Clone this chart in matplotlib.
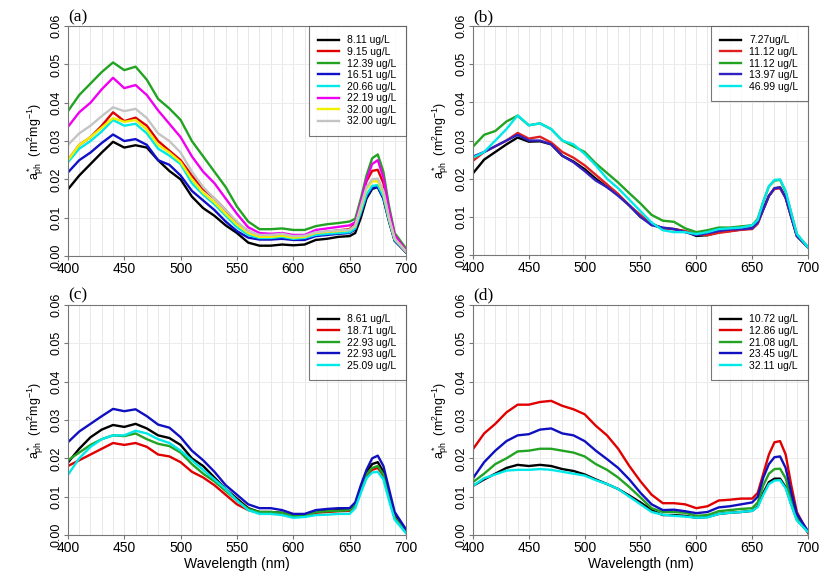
import numpy as np
import matplotlib
matplotlib.use("Agg")
import matplotlib.pyplot as plt
from matplotlib.ticker import MultipleLocator

plt.rcParams['font.family'] = ['Liberation Sans', 'DejaVu Sans']
plt.rcParams['mathtext.fontset'] = 'custom'
plt.rcParams['mathtext.rm'] = 'Liberation Sans'
plt.rcParams['mathtext.it'] = 'Liberation Sans'

# wavelength grid (nm)
wl = [400, 410, 420, 430, 440, 450, 460, 470, 480, 490, 500, 510, 520, 530, 540, 550,
      560, 570, 580, 590, 600, 610, 620, 630, 640, 650, 655, 660, 665, 670, 675, 680,
      685, 690, 700]

# panel (a)
a_labels = ["8.11 ug/L", "9.15 ug/L", "12.39 ug/L", "16.51 ug/L",
            "20.66 ug/L", "22.19 ug/L", "32.00 ug/L", "32.00 ug/L"]
a_colors = ["black", "#e00000", "#22a322", "#1010c8", "#00e8e8", "#f000f0", "#f0f000", "#c4c4c4"]
a_811 = [.0174, .021, .024, .027, .0298, .0283, .0289, .0283, .025, .0222, .020, .0155, .0125, .0105, .008, .006,
         .0035, .0027, .0027, .003, .0028, .003, .0042, .0045, .005, .0052, .006, .010, .015, .0175, .018, .015,
         .009, .004, .001]
a_915 = [.025, .029, .031, .034, .0375, .0352, .0361, .034, .030, .0275, .025, .021, .0175, .015, .012, .0085,
         .0065, .005, .005, .0052, .0048, .005, .006, .0063, .0067, .007, .0085, .014, .0195, .0222, .0225, .019,
         .011, .005, .0012]
a_1239 = [.0378, .042, .045, .048, .0505, .0485, .0494, .046, .041, .0385, .0355, .030, .026, .022, .018, .0129,
          .009, .007, .007, .0072, .0068, .0068, .0078, .0083, .0086, .009, .0097, .015, .021, .0255, .0265, .022,
          .013, .006, .002]
a_1651 = [.0218, .025, .027, .0295, .0317, .030, .0305, .029, .025, .0238, .021, .017, .0145, .012, .009, .0065,
          .0048, .0043, .0043, .0045, .0042, .0042, .0052, .0055, .0058, .006, .007, .011, .0155, .0178, .018, .015,
          .0092, .004, .001]
a_2066 = [.0245, .028, .030, .0325, .0355, .034, .0345, .032, .028, .0262, .024, .019, .016, .0135, .0105, .0075,
          .0055, .0047, .0047, .005, .0045, .0047, .0055, .0058, .006, .0062, .0072, .0115, .016, .0183, .0185, .0155,
          .0093, .0042, .0012]
a_2219 = [.0337, .0375, .040, .0435, .0465, .0438, .0446, .042, .038, .0345, .031, .026, .022, .019, .015, .011,
          .0075, .006, .0058, .006, .0055, .0055, .0068, .0072, .0076, .008, .0088, .014, .020, .024, .025, .0205,
          .012, .0055, .0015]
a_3200y = [.025, .029, .031, .0335, .036, .035, .0355, .033, .029, .027, .0245, .020, .0165, .014, .011, .0082,
           .006, .005, .005, .0053, .0048, .005, .006, .0063, .0065, .0068, .0078, .0125, .0175, .0195, .0195, .0165,
           .0098, .0045, .0012]
a_3200g = [.029, .032, .034, .0365, .0388, .0378, .0384, .036, .032, .030, .027, .022, .018, .015, .012, .009,
           .0065, .0055, .0055, .0058, .0052, .0053, .0062, .0065, .0067, .0068, .008, .013, .018, .020, .0202, .017,
           .010, .0045, .0012]

# panel (b)
b_labels = ["7.27ug/L", "11.12 ug/L", "11.12 ug/L", "13.97 ug/L", "46.99 ug/L"]
b_colors = ["black", "#e02020", "#22a322", "#3020c0", "#00e8e8"]
b_727 = [.0214, .025, .027, .029, .0308, .0297, .0298, .029, .026, .0245, .0225, .020, .0178, .0158, .013, .010,
         .0082, .007, .0068, .0062, .005, .0052, .006, .0063, .0067, .007, .0085, .012, .0155, .0175, .0177, .015,
         .010, .005, .002]
b_1112r = [.0247, .027, .0285, .030, .032, .0305, .031, .0295, .027, .0255, .0235, .021, .0185, .016, .013, .0105,
           .008, .007, .0068, .0063, .0055, .0052, .0058, .0062, .0066, .0068, .0082, .012, .0155, .0173, .0175, .015,
           .010, .005, .002]
b_1112g = [.0284, .0315, .0325, .035, .0365, .034, .0345, .033, .030, .0285, .027, .024, .0215, .019, .0162, .0135,
           .0105, .009, .0087, .007, .006, .0065, .0072, .0072, .0075, .0078, .0095, .014, .018, .0195, .0197, .0165,
           .011, .0055, .002]
b_1397 = [.0258, .027, .0285, .030, .0315, .030, .030, .029, .026, .0243, .022, .0195, .0178, .0155, .013, .010,
          .0078, .0072, .0068, .006, .0052, .0057, .0063, .0067, .0068, .007, .0085, .012, .0155, .0175, .0177, .015,
          .010, .005, .002]
b_4699 = [.0255, .027, .030, .033, .0366, .034, .0345, .033, .030, .029, .0265, .0235, .020, .0175, .0145, .0115,
          .0085, .0065, .006, .006, .0055, .006, .0068, .007, .0072, .0078, .0092, .014, .018, .0197, .0198, .0168,
          .011, .0055, .002]

# panel (c)
c_labels = ["8.61 ug/L", "18.71 ug/L", "22.93 ug/L", "22.93 ug/L", "25.09 ug/L"]
c_colors = ["black", "#e00000", "#22a322", "#1010c0", "#00e8e8"]
c_861 = [.0189, .0225, .0255, .0275, .0287, .0282, .029, .0278, .026, .0253, .0235, .020, .018, .015, .012, .0095,
         .007, .006, .006, .0058, .005, .005, .006, .0063, .0065, .0065, .008, .0125, .0165, .0185, .019, .0165,
         .0105, .005, .001]
c_1871 = [.018, .0195, .021, .0225, .024, .0235, .024, .023, .021, .0205, .019, .0165, .015, .013, .0105, .008,
          .0065, .0058, .0058, .0057, .005, .005, .0058, .006, .0062, .0063, .0075, .0115, .015, .017, .0175, .0155,
          .0098, .0045, .001]
c_2293g = [.0195, .0215, .0235, .025, .026, .0258, .0265, .025, .0238, .0232, .0215, .0185, .016, .014, .0115, .009,
           .0068, .006, .006, .0058, .005, .005, .006, .0062, .0063, .0065, .0078, .012, .0158, .0175, .018, .0158,
           .010, .0045, .001]
c_2293b = [.0242, .027, .029, .031, .0329, .0323, .0328, .031, .0288, .028, .0255, .022, .0195, .0165, .013, .0105,
           .008, .007, .007, .0065, .0055, .0055, .0065, .0068, .007, .007, .0085, .013, .017, .020, .0207, .018,
           .012, .006, .0015]
c_2509 = [.0157, .020, .023, .025, .026, .026, .0272, .0265, .025, .024, .022, .0195, .017, .0145, .012, .009,
          .0065, .0055, .0055, .0052, .0045, .0047, .0052, .0053, .0055, .0055, .007, .011, .0148, .0163, .0165, .0145,
          .009, .004, .0005]

# panel (d)
d_labels = ["10.72 ug/L", "12.86 ug/L", "21.08 ug/L", "23.45 ug/L", "32.11 ug/L"]
d_colors = ["black", "#e00000", "#22a322", "#1010c0", "#00e8e8"]
d_1072 = [.0128, .0145, .016, .0175, .0183, .018, .0183, .018, .0172, .0167, .0158, .0145, .0133, .012, .0103, .0085,
          .0065, .0052, .0052, .005, .0045, .0047, .0055, .0058, .006, .0063, .0075, .011, .0138, .0147, .0147, .0125,
          .008, .004, .0008]
d_1286 = [.0224, .0265, .029, .032, .034, .034, .0347, .035, .0337, .0328, .0315, .0285, .026, .0225, .018, .014,
          .0105, .0083, .0083, .008, .007, .0075, .009, .0092, .0095, .0095, .011, .016, .021, .0242, .0245, .021,
          .013, .006, .0005]
d_2108 = [.0138, .016, .0185, .020, .0218, .022, .0225, .0225, .022, .0215, .0205, .0185, .017, .015, .0125, .0098,
          .007, .006, .006, .0058, .005, .0052, .0062, .0065, .0068, .007, .0085, .013, .016, .0172, .0173, .0148,
          .009, .0045, .0008]
d_2345 = [.0148, .019, .022, .0245, .026, .0263, .0275, .0278, .0265, .026, .0245, .022, .0198, .0175, .0145, .011,
          .008, .0065, .0066, .0062, .0057, .006, .0072, .0075, .008, .0085, .010, .015, .0185, .0203, .0205, .0175,
          .011, .0055, .001]
d_3211 = [.0128, .0148, .0158, .0168, .017, .017, .0172, .017, .0165, .016, .0155, .0143, .0133, .012, .010, .008,
          .006, .0053, .005, .0048, .0045, .0046, .0055, .0058, .006, .0063, .0073, .0105, .0133, .0142, .0143, .0122,
          .0078, .0038, .0008]

panels = [
    ("(a)", a_labels, a_colors, [a_811, a_915, a_1239, a_1651, a_2066, a_2219, a_3200y, a_3200g], False),
    ("(b)", b_labels, b_colors, [b_727, b_1112r, b_1112g, b_1397, b_4699], False),
    ("(c)", c_labels, c_colors, [c_861, c_1871, c_2293g, c_2293b, c_2509], True),
    ("(d)", d_labels, d_colors, [d_1072, d_1286, d_2108, d_2345, d_3211], True),
]

# axes rectangles in figure fraction (left, bottom, width, height)
rects = [
    (0.0811, 0.5616, 0.4033, 0.3938),
    (0.5644, 0.5633, 0.3998, 0.3921),
    (0.0811, 0.0839, 0.4033, 0.3938),
    (0.5644, 0.0839, 0.3998, 0.3938),
]

fig = plt.figure(figsize=(8.38, 5.84), dpi=100)

for (tag, labels, colors, series, bottom), rect in zip(panels, rects):
    ax = fig.add_axes(rect)
    for vals, lab, col in zip(series, labels, colors):
        ax.plot(wl, vals, color=col, lw=1.7, label=lab)
    ax.set_xlim(400, 700)
    ax.set_ylim(0, 0.06)
    ax.xaxis.set_major_locator(MultipleLocator(50))
    ax.xaxis.set_minor_locator(MultipleLocator(10))
    ax.yaxis.set_major_locator(MultipleLocator(0.01))
    ax.set_yticklabels(["%.2f" % v for v in ax.get_yticks()])
    ax.grid(True, which='both', axis='x', color='#e8e8e8', lw=0.7)
    ax.grid(True, which='major', axis='y', color='#ececec', lw=0.7)
    ax.set_axisbelow(True)
    for sp in ax.spines.values():
        sp.set_color('#777777')
        sp.set_linewidth(0.8)
    ax.tick_params(axis='both', which='major', length=3, color='#777777', pad=1)
    ax.tick_params(axis='x', which='major', labelsize=10)
    ax.tick_params(axis='y', which='major', labelsize=9)
    ax.tick_params(axis='both', which='minor', length=0)
    for t in ax.get_yticklabels():
        t.set_rotation(90)
        t.set_va('center')
    ax.set_ylabel(r'$a^*_{ph}$  (m$^2$mg$^{-1}$)', fontsize=9, labelpad=3)
    if bottom:
        ax.set_xlabel('Wavelength (nm)', fontsize=10, labelpad=2)
    leg = ax.legend(loc='upper right', fontsize=7.5, frameon=True, fancybox=False,
                    borderaxespad=0, handlelength=2.0, labelspacing=0.15, borderpad=0.9,
                    handletextpad=0.8)
    leg.get_frame().set_edgecolor('#555555')
    leg.get_frame().set_linewidth(0.8)
    ax.text(0.0, 1.005, tag, transform=ax.transAxes, fontsize=12.5,
            family=['Liberation Serif', 'DejaVu Serif'], ha='left', va='bottom')

fig.savefig('out.png', dpi=100)
